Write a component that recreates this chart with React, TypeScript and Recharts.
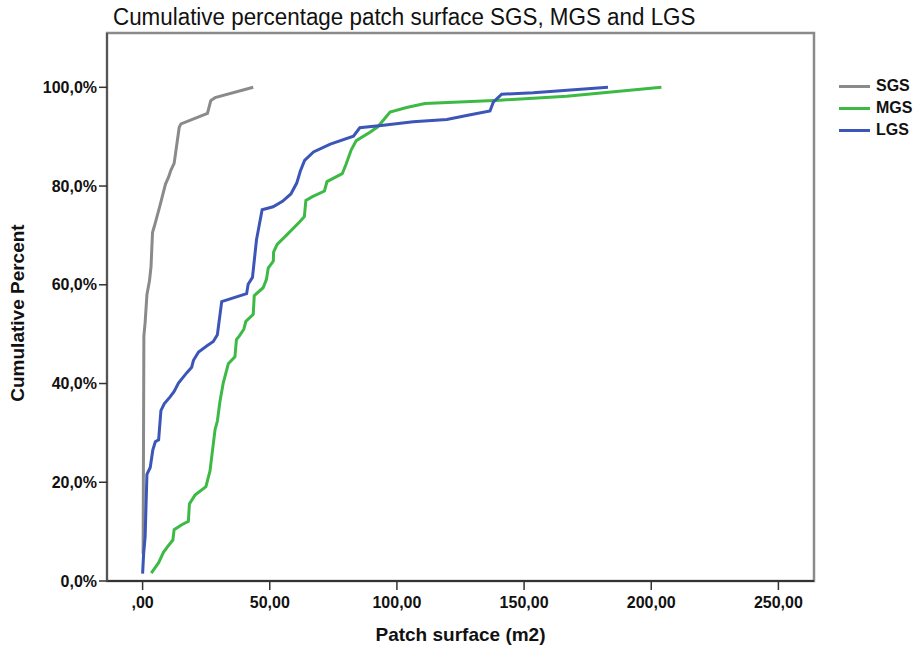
import React from "react";
import {
  LineChart,
  Line,
  XAxis,
  YAxis,
  ReferenceArea,
  Label,
} from "recharts";

// Patch surface (m2) against cumulative percent, one pair of arrays per group
const sgsSurface = [0.2, 0.5, 1.0, 1.7, 2.7, 3.3, 3.9, 4.7, 6.9, 9.0, 10.2, 11.1, 12.4, 14.4, 15.1, 25.5, 26.8, 28.5, 43.5];
const sgsPercent = [5.5, 49.6, 52.4, 58.0, 60.8, 63.6, 70.6, 72.0, 76.2, 80.4, 81.8, 83.2, 84.6, 91.9, 92.6, 94.7, 97.3, 97.9, 100];

const mgsSurface = [
  3.4, 6.3, 8.2, 10.2, 11.9, 12.4, 15.4, 18.0, 18.4, 20.6, 24.9, 26.5, 28.5, 29.4, 30.4, 31.7, 33.7,
  36.3, 36.9, 38.0, 39.8, 40.6, 43.5, 43.9, 47.4, 48.7, 49.4, 51.4, 51.5, 52.9, 56.5, 61.7, 63.6,
  64.2, 66.6, 71.5, 72.5, 78.5, 80.0, 82.0, 84.0, 89.4, 92.5, 97.3, 103.8, 111.0, 140.5, 166.7, 204.0,
];
const mgsPercent = [
  1.6, 3.7, 5.8, 7.2, 8.3, 10.4, 11.4, 12.1, 15.6, 17.4, 19.1, 22.3, 30.7, 32.4, 36.3, 40.1, 44.0,
  45.4, 48.9, 49.6, 51.0, 52.6, 54.0, 57.8, 59.4, 61.1, 63.4, 64.8, 66.6, 68.2, 70.0, 72.7, 73.8,
  77.1, 77.8, 79.0, 80.9, 82.5, 84.4, 87.3, 89.2, 90.9, 92.0, 95.0, 95.9, 96.7, 97.4, 98.2, 100,
];

const lgsSurface = [
  0.0, 0.4, 1.0, 1.7, 3.0, 4.0, 5.0, 6.3, 7.2, 8.5, 10.8, 12.4, 14.1, 17.4, 19.3, 20.0, 22.0, 25.2,
  27.8, 29.4, 31.1, 40.9, 41.5, 43.2, 44.8, 47.0, 51.3, 55.0, 58.3, 60.6, 62.0, 63.7, 67.2, 73.8,
  82.9, 85.4, 94.7, 106.4, 119.6, 127.4, 136.6, 137.9, 141.2, 153.6, 183.0,
];
const lgsPercent = [
  1.5, 5.5, 9.0, 21.6, 23.0, 26.5, 28.2, 28.6, 34.5, 35.9, 37.3, 38.4, 40.1, 42.2, 43.3, 44.7, 46.4,
  47.6, 48.5, 49.9, 56.6, 58.2, 60.1, 61.5, 69.2, 75.2, 75.8, 76.9, 78.4, 80.6, 83.0, 85.2, 86.9,
  88.5, 90.1, 91.8, 92.3, 93.0, 93.5, 94.3, 95.2, 97.0, 98.6, 98.9, 100,
];

const xTicks = [0, 50, 100, 150, 200, 250];
const yTicks = [0, 20, 40, 60, 80, 100];

const groups = [
  { name: "SGS", color: "#8a8a8a", surface: sgsSurface, percent: sgsPercent },
  { name: "MGS", color: "#3dba45", surface: mgsSurface, percent: mgsPercent },
  { name: "LGS", color: "#3c56b8", surface: lgsSurface, percent: lgsPercent },
];

const series = groups.map((g) => ({
  ...g,
  points: g.surface.map((x, i) => ({ x, y: g.percent[i] })),
}));

const FONT = "'Liberation Sans', Arial, Helvetica, sans-serif";

const fmtSurface = (v: number) => (v === 0 ? ",00" : v.toFixed(2).replace(".", ","));
const fmtPercent = (v: number) => v.toFixed(1).replace(".", ",") + "%";

const tickStyle = { fontFamily: FONT, fontSize: 16, fontWeight: 700, fill: "#111" };
const titleStyle = { fontFamily: FONT, fontSize: 19, fontWeight: 700, fill: "#111" };

export default function App() {
  return (
    <div style={{ position: "absolute", left: 0, top: 0, width: 914, height: 648, background: "#fff" }}>
      <div
        style={{
          position: "absolute",
          left: 113,
          top: 5,
          fontFamily: FONT,
          fontSize: 22.4,
          lineHeight: "24px",
          color: "#111",
          whiteSpace: "nowrap",
          transform: "scaleY(1.1)",
          transformOrigin: "left center",
        }}
      >
        Cumulative percentage patch surface SGS, MGS and LGS
      </div>

      <LineChart width={914} height={648} margin={{ top: 33, right: 100, bottom: 0, left: 0 }}>
        <ReferenceArea
          x1={-14}
          x2={264}
          y1={0}
          y2={111}
          fill="none"
          stroke="#8a8a8a"
          strokeWidth={2.5}
          ifOverflow="visible"
        />
        <XAxis
          type="number"
          dataKey="x"
          domain={[-14, 264]}
          ticks={xTicks}
          allowDataOverflow
          height={67}
          tickSize={9}
          tickMargin={7}
          tickFormatter={fmtSurface}
          tick={tickStyle}
          axisLine={{ stroke: "#333", strokeWidth: 2 }}
          tickLine={{ stroke: "#333", strokeWidth: 1.5 }}
        >
          <Label
            content={({ viewBox }: any) => (
              <text
                x={viewBox.x + viewBox.width / 2}
                y={641}
                textAnchor="middle"
                style={titleStyle}
              >
                Patch surface (m2)
              </text>
            )}
          />
        </XAxis>
        <YAxis
          type="number"
          dataKey="y"
          domain={[0, 111]}
          ticks={yTicks}
          allowDataOverflow
          width={107}
          tickSize={8}
          tickMargin={2}
          tickFormatter={fmtPercent}
          tick={tickStyle}
          axisLine={{ stroke: "#555", strokeWidth: 2 }}
          tickLine={{ stroke: "#333", strokeWidth: 1.5 }}
        >
          <Label
            content={({ viewBox }: any) => {
              const cy = viewBox.y + viewBox.height / 2 + 6;
              return (
                <text
                  x={24}
                  y={cy}
                  transform={`rotate(-90 24 ${cy})`}
                  textAnchor="middle"
                  style={titleStyle}
                >
                  Cumulative Percent
                </text>
              );
            }}
          />
        </YAxis>
        {series.map((s) => (
          <Line
            key={s.name}
            data={s.points}
            dataKey="y"
            name={s.name}
            type="linear"
            stroke={s.color}
            strokeWidth={3}
            dot={false}
            activeDot={false}
            isAnimationActive={false}
          />
        ))}
      </LineChart>

      <div style={{ position: "absolute", left: 839, top: 75, fontFamily: FONT }}>
        {series.map((s) => (
          <div key={s.name} style={{ display: "flex", alignItems: "center", height: 22 }}>
            <span style={{ display: "inline-block", width: 31, height: 3, background: s.color }} />
            <span style={{ marginLeft: 6, fontSize: 16, fontWeight: 700, color: "#111" }}>{s.name}</span>
          </div>
        ))}
      </div>
    </div>
  );
}
